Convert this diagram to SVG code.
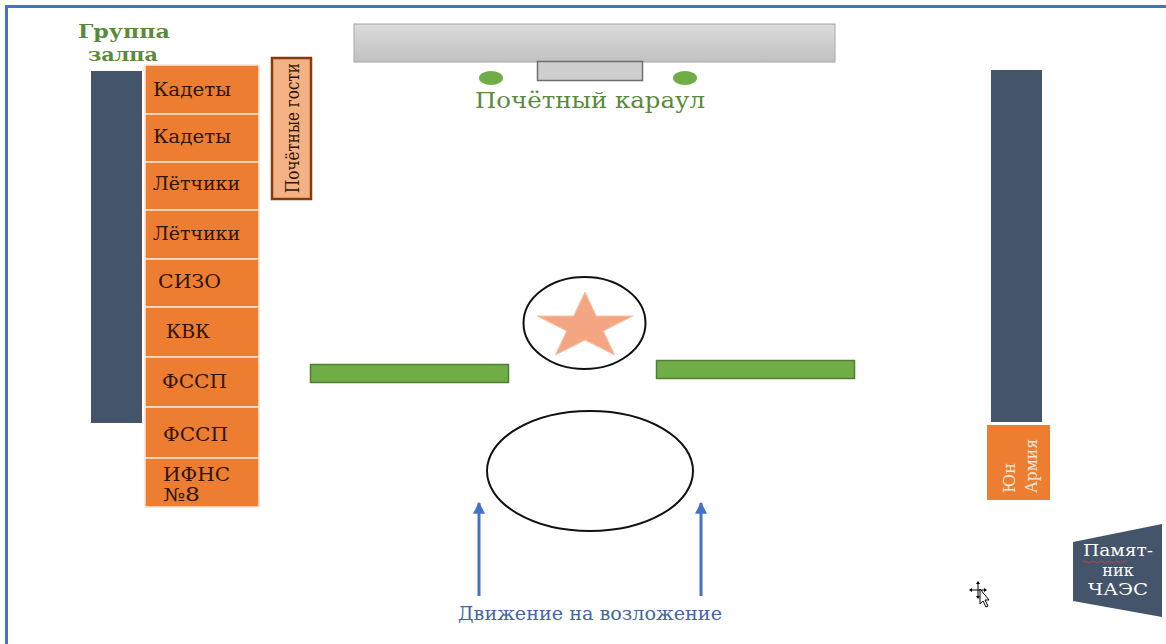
<svg xmlns="http://www.w3.org/2000/svg" width="1166" height="644" viewBox="0 0 1166 644">
<style>
.cell{fill:#ed7d31;stroke:#fbe5d6;stroke-width:1.5}
.ct{font-family:"DejaVu Serif","Liberation Serif",serif;font-size:18px;fill:#2e1506}
.bar{fill:#44546a}
.grn{fill:#70ad47;stroke:#507e32;stroke-width:1.5}
.gt{font-family:"DejaVu Serif","Liberation Serif",serif;fill:#5b8a3c}
</style>
<defs>
<linearGradient id="gr" x1="0" y1="0" x2="0" y2="1">
<stop offset="0" stop-color="#dcdcdc"/>
<stop offset="1" stop-color="#c0c0c0"/>
</linearGradient>
<marker id="ah" viewBox="0 0 10 10" refX="9" refY="5" markerWidth="4" markerHeight="4" orient="auto" markerUnits="strokeWidth">
<path d="M0,0 L10,5 L0,10 z" fill="#4472c4"/>
</marker>
</defs>
<rect width="1166" height="644" fill="#ffffff"/>
<g id="frame">
<line x1="5" y1="6.5" x2="1166" y2="6.5" stroke="#4472c4" stroke-width="3"/>
<line x1="6.5" y1="5" x2="6.5" y2="644" stroke="#4472c4" stroke-width="3"/>
</g>
<g id="gruppa-zalpa">
<text class="gt" font-weight="bold" font-size="19" fill="#5e7f45"><tspan x="78" y="38" textLength="92" lengthAdjust="spacingAndGlyphs">Группа</tspan><tspan x="88" y="61" textLength="70" lengthAdjust="spacingAndGlyphs">залпа</tspan></text>
</g>
<g id="left-bar"><rect class="bar" x="91" y="71" width="51" height="352"/></g>
<g id="cells">
<g id="c1"><rect class="cell" x="145" y="65" width="114" height="49"/><text class="ct" x="153" y="96" textLength="78" lengthAdjust="spacingAndGlyphs">Кадеты</text></g>
<g id="c2"><rect class="cell" x="145" y="114" width="114" height="48"/><text class="ct" x="153" y="143" textLength="78" lengthAdjust="spacingAndGlyphs">Кадеты</text></g>
<g id="c3"><rect class="cell" x="145" y="162" width="114" height="48"/><text class="ct" x="153" y="190" textLength="87" lengthAdjust="spacingAndGlyphs">Лётчики</text></g>
<g id="c4"><rect class="cell" x="145" y="210" width="114" height="49"/><text class="ct" x="153" y="240" textLength="87" lengthAdjust="spacingAndGlyphs">Лётчики</text></g>
<g id="c5"><rect class="cell" x="145" y="259" width="114" height="48"/><text class="ct" x="158" y="288" textLength="63" lengthAdjust="spacingAndGlyphs">СИЗО</text></g>
<g id="c6"><rect class="cell" x="145" y="307" width="114" height="50"/><text class="ct" x="166" y="338" textLength="44" lengthAdjust="spacingAndGlyphs">КВК</text></g>
<g id="c7"><rect class="cell" x="145" y="357" width="114" height="50"/><text class="ct" x="162" y="388" textLength="65" lengthAdjust="spacingAndGlyphs">ФССП</text></g>
<g id="c8"><rect class="cell" x="145" y="407" width="114" height="51"/><text class="ct" x="163" y="441" textLength="65" lengthAdjust="spacingAndGlyphs">ФССП</text></g>
<g id="c9"><rect class="cell" x="145" y="458" width="114" height="49"/><text class="ct"><tspan x="163" y="481" textLength="67" lengthAdjust="spacingAndGlyphs">ИФНС</tspan><tspan x="163" y="501" textLength="37" lengthAdjust="spacingAndGlyphs">№8</tspan></text></g>
</g>
<g id="pochetnye-gosti">
<rect x="272" y="58" width="39" height="141" fill="#f4b183" stroke="#843c0c" stroke-width="2.5"/>
<text class="ct" font-size="17" fill="#4a2510" transform="translate(299,193) rotate(-90)" x="0" y="0" textLength="130" lengthAdjust="spacingAndGlyphs">Почётные гости</text>
</g>
<g id="tribune">
<rect x="354" y="24" width="481" height="38" fill="url(#gr)" stroke="#a6a6a6" stroke-width="1"/>
<rect x="537.5" y="61.5" width="105" height="19" fill="#cfcfcf" stroke="#6e6e6e" stroke-width="1.5"/>
</g>
<g id="karaul">
<ellipse cx="491" cy="78" rx="12" ry="7" fill="#70ad47"/>
<ellipse cx="685" cy="78" rx="12" ry="7" fill="#70ad47"/>
<text class="gt" font-size="23" x="475" y="108" textLength="230" lengthAdjust="spacingAndGlyphs">Почётный караул</text>
</g>
<g id="star-circle">
<ellipse cx="584.5" cy="323" rx="61" ry="46" fill="#ffffff" stroke="#111111" stroke-width="2"/>
<polygon points="585,292 596.3,316 633,316 603.3,330.9 614.7,355 585,340.1 555.3,355 566.7,330.9 537,316 573.7,316" fill="#f4a582" stroke="#f8c3aa" stroke-width="1"/>
</g>
<g id="green-left"><rect class="grn" x="310.5" y="364.5" width="198" height="18"/></g>
<g id="green-right"><rect class="grn" x="656.5" y="360.5" width="198" height="18"/></g>
<g id="big-circle"><ellipse cx="590" cy="471" rx="103" ry="60" fill="#ffffff" stroke="#111111" stroke-width="2"/></g>
<g id="connectors">
<line x1="479" y1="596" x2="479" y2="503" stroke="#4472c4" stroke-width="3" marker-end="url(#ah)"/>
<line x1="701" y1="596" x2="701" y2="503" stroke="#4472c4" stroke-width="3" marker-end="url(#ah)"/>
</g>
<g id="dvizhenie">
<text font-family="DejaVu Serif,Liberation Serif,serif" font-size="18" fill="#44679f" x="458" y="620" textLength="264" lengthAdjust="spacingAndGlyphs">Движение на возложение</text>
</g>
<g id="right-bar"><rect class="bar" x="991" y="70" width="51" height="352"/></g>
<g id="yunarmiya">
<rect x="987" y="425" width="63" height="75" fill="#ed7d31"/>
<text font-family="DejaVu Serif,Liberation Serif,serif" font-size="17" fill="#f7e7da" transform="translate(1015,493) rotate(-90)"><tspan x="0" y="0" textLength="30" lengthAdjust="spacingAndGlyphs">Юн</tspan><tspan x="0" y="22" textLength="54" lengthAdjust="spacingAndGlyphs">Армия</tspan></text>
</g>
<g id="pamyatnik">
<polygon points="1073,542 1162,524 1162,617 1073,601" fill="#44546a"/>
<text font-family="DejaVu Serif,Liberation Serif,serif" font-size="16" fill="#ffffff" text-anchor="middle"><tspan x="1118" y="556" textLength="70" lengthAdjust="spacingAndGlyphs">Памят-</tspan><tspan x="1118" y="576">ник</tspan><tspan x="1118" y="595" textLength="60" lengthAdjust="spacingAndGlyphs">ЧАЭС</tspan></text>
<path d="M1083,562 q2,-2 4,0 t4,0 t4,0 t4,0 t4,0 t4,0 t4,0 t4,0 t4,0 t4,0 t4,0" fill="none" stroke="#d04040" stroke-width="0.8"/>
</g>
<g id="cursor">
<path d="M978,583 L978,597 M971,590 L985,590" stroke="#000" stroke-width="1"/>
<path d="M978,581 l-2,3 h4 z M978,599 l-2,-3 h4 z M969,590 l3,-2 v4 z M987,590 l-3,-2 v4 z" fill="#000"/>
<path d="M980,589 L980,604 L983,601 L986,607 L988,606 L985,600 L989,600 Z" fill="#ffffff" stroke="#000" stroke-width="1"/>
</g>
</svg>
